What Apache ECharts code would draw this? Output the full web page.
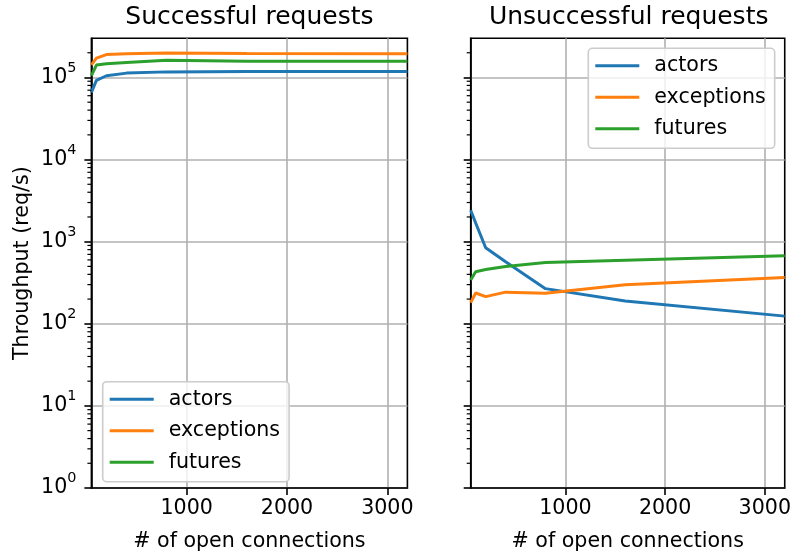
<!DOCTYPE html>
<html>
<head>
<meta charset="utf-8">
<script src="https://cdn.jsdelivr.net/npm/echarts@6/dist/echarts.min.js"></script>
<style>
html,body{margin:0;padding:0;background:#fff;}
#chart{width:794px;height:557px;}
</style>
</head>
<body>
<div id="chart"></div>
<script>
// ---- data ----
const connections = [50, 100, 200, 400, 800, 1600, 3200];
const seriesNames = ['actors', 'exceptions', 'futures'];
const succActors = [65700, 92000, 105000, 113000, 117000, 118000, 118000];
const succExceptions = [142700, 172000, 190000, 194000, 198000, 196000, 194000];
const succFutures = [105000, 141600, 147000, 152000, 162000, 158000, 158000];
const failActors = [2416, 1690, 844, 570, 268, 189, 124];
const failExceptions = [181, 237, 214, 243, 235, 299, 367];
const failFutures = [341, 431, 459, 500, 559, 596, 674];
const titles = ['Successful requests', 'Unsuccessful requests'];
const xTicks = [1000, 2000, 3000];
const yTicks = [1, 10, 100, 1000, 10000, 100000];
const minorMultipliers = [2, 3, 4, 5, 6, 7, 8, 9];

const xMin = 50, xMax = 3200, yMin = 1, yMax = 300000;
const colors = ['#1f77b4', '#ff7f0e', '#2ca02c'];
const FONT = 'DejaVu Sans';
const FS = 20.6;

const minorTicks = [];
yTicks.forEach(d => minorMultipliers.forEach(m => { if (d * m < yMax) minorTicks.push(d * m); }));

const grids = [
  {left: 91.4, top: 38.3, width: 316, height: 450.7},
  {left: 470.7, top: 38.3, width: 316, height: 450.7}
];

function xAxis(i) {
  return {
    type: 'value', gridIndex: i, min: xMin, max: xMax,
    name: '# of open connections', nameLocation: 'middle', nameGap: 43,
    nameTextStyle: {fontSize: FS, fontFamily: FONT, color: '#000'},
    axisLine: {show: true, onZero: false, lineStyle: {color: '#000', width: 1.6}},
    axisTick: {show: true, length: 7, customValues: xTicks, lineStyle: {color: '#000', width: 1.6}},
    axisLabel: {show: true, fontSize: FS, fontFamily: FONT, color: '#000', margin: 10,
      customValues: xTicks, formatter: v => String(v)},
    splitLine: {show: true, lineStyle: {color: '#b0b0b0', width: 1.6}}
  };
}
function yAxis(i) {
  return {
    type: 'log', logBase: 10, gridIndex: i, min: yMin, max: yMax,
    name: i === 0 ? 'Throughput (req/s)' : '', nameLocation: 'middle', nameGap: 58,
    nameTextStyle: {fontSize: FS, fontFamily: FONT, color: '#000'},
    axisLine: {show: true, lineStyle: {color: '#000', width: 1.6}},
    axisTick: {show: true, length: 7, customValues: yTicks, lineStyle: {color: '#000', width: 1.6}},
    axisLabel: {
      show: i === 0, margin: 15, customValues: yTicks,
      formatter: v => '{b|10}{s|' + Math.round(Math.log10(v)) + '}',
      rich: {
        b: {fontSize: FS, fontFamily: FONT, color: '#000', lineHeight: 20, verticalAlign: 'middle'},
        s: {fontSize: 14.4, fontFamily: FONT, color: '#000', lineHeight: 14, verticalAlign: 'middle', padding: [0, 0, 19, 0]}
      }
    },
    splitLine: {show: true, lineStyle: {color: '#b0b0b0', width: 1.6}}
  };
}

const seriesData = [
  [succActors, succExceptions, succFutures],
  [failActors, failExceptions, failFutures]
];
const series = [];
seriesData.forEach((group, gi) => {
  group.forEach((vals, si) => {
    series.push({
      name: seriesNames[si], type: 'line', xAxisIndex: gi, yAxisIndex: gi,
      data: connections.map((c, k) => [c, vals[k]]),
      showSymbol: false, symbol: 'none',
      lineStyle: {color: colors[si], width: 3}, itemStyle: {color: colors[si]},
      z: 3
    });
  });
  series.push({
    type: 'custom', xAxisIndex: gi, yAxisIndex: gi, silent: true, clip: false, z: 10,
    data: minorTicks.map(v => [xMin, v]),
    renderItem: (params, api) => {
      const p = api.coord([api.value(0), api.value(1)]);
      return {type: 'line', shape: {x1: p[0] - 4, y1: p[1], x2: p[0], y2: p[1]},
        style: {stroke: '#000', lineWidth: 1.2}};
    }
  });
});

function legend(pos) {
  return Object.assign({
    orient: 'vertical', data: seriesNames, icon: 'rect', itemWidth: 44, itemHeight: 3,
    itemGap: 10.5, padding: [7, 9, 9, 7],
    backgroundColor: 'rgba(255,255,255,0.8)', borderColor: '#cccccc', borderWidth: 1.6, borderRadius: 4,
    textStyle: {fontSize: FS, fontFamily: FONT, color: '#000', lineHeight: 20, padding: [0, 0, 0, 10]},
    selectedMode: false
  }, pos);
}

const chart = echarts.init(document.getElementById('chart'), null, {renderer: 'canvas'});
chart.setOption({
  animation: false,
  backgroundColor: '#fff',
  title: titles.map((t, i) => ({
    text: t, left: grids[i].left + grids[i].width / 2, top: 4.5, padding: 0, textAlign: 'center',
    textStyle: {fontSize: 25, fontWeight: 'normal', fontFamily: FONT, color: '#000'}
  })),
  grid: grids.map(g => Object.assign({show: true, borderColor: '#000', borderWidth: 1.6, backgroundColor: 'transparent'}, g)),
  xAxis: [xAxis(0), xAxis(1)],
  yAxis: [yAxis(0), yAxis(1)],
  legend: [legend({left: 102.7, top: 381.7}), legend({left: 588.3, top: 48.3})],
  series: series
});
</script>
</body>
</html>
